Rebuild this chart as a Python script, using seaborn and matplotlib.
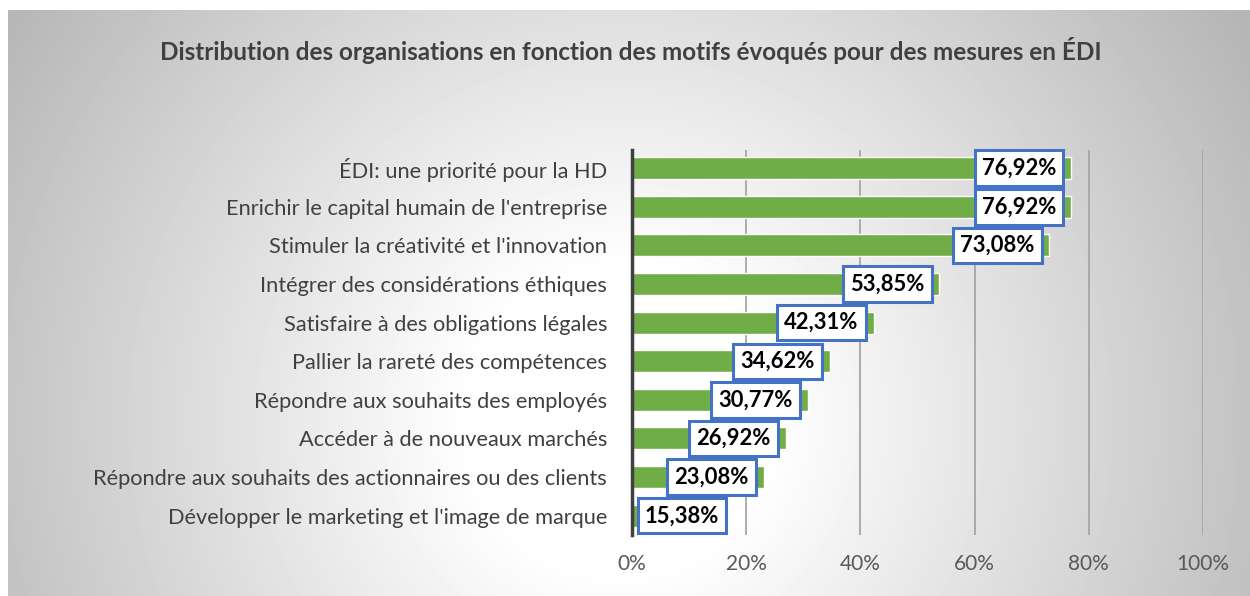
import matplotlib.pyplot as plt
import numpy as np
import pandas as pd
import seaborn as sns

title = "Distribution des organisations en fonction des motifs évoqués pour des mesures en ÉDI"
categories = [
    "ÉDI: une priorité pour la HD",
    "Enrichir le capital humain de l'entreprise",
    "Stimuler la créativité et l'innovation",
    "Intégrer des considérations éthiques",
    "Satisfaire à des obligations légales",
    "Pallier la rareté des compétences",
    "Répondre aux souhaits des employés",
    "Accéder à de nouveaux marchés",
    "Répondre aux souhaits des actionnaires ou des clients",
    "Développer le marketing et l'image de marque",
]
values = [76.92, 76.92, 73.08, 53.85, 42.31, 34.62, 30.77, 26.92, 23.08, 15.38]
value_labels = ["76,92%", "76,92%", "73,08%", "53,85%", "42,31%",
                "34,62%", "30,77%", "26,92%", "23,08%", "15,38%"]
x_ticks = [0, 20, 40, 60, 80, 100]
x_tick_labels = ["0%", "20%", "40%", "60%", "80%", "100%"]

sns.set_style("white")
plt.rcParams["font.family"] = ["Lato", "DejaVu Sans"]

fig = plt.figure(figsize=(12.5, 5.96), dpi=100)

# radial gradient background, white in the middle, grey at the corners
bg = fig.add_axes([8 / 1250, 0, 1 - 8 / 1250, 1 - 10 / 596], zorder=0)
h, w = 586, 1242
yy, xx = np.mgrid[0:h, 0:w]
r = np.hypot(xx + 8 - 620, yy + 10 - 420)
shade = 1 - 0.29 * np.clip((r - 150) / 590, 0, 1)
bg.imshow(shade, cmap="gray", vmin=0, vmax=1, aspect="auto", interpolation="bilinear")
bg.axis("off")

df = pd.DataFrame({"motif": categories, "pct": values})

ax = fig.add_axes([0.5056, 0.1023, 0.4568, 0.646], zorder=1)
ax.set_facecolor("none")
sns.barplot(data=df, x="pct", y="motif", orient="h", color="#70ad47",
            saturation=1, width=0.57, ax=ax)

ax.set_xlim(0, 100)
ax.set_ylim(9.5, -0.47)
ax.set_axisbelow(True)
ax.xaxis.grid(True, color="#a6a6a6", linewidth=1.3)
ax.set_xticks(x_ticks)
ax.set_xticklabels(x_tick_labels)
ax.set_xlabel("")
ax.set_ylabel("")
ax.tick_params(axis="x", length=0, pad=14, labelsize=15, labelcolor="#595959")
ax.tick_params(axis="y", length=0, pad=18, labelsize=15.7, labelcolor="#404040")

for side in ["top", "right", "bottom"]:
    ax.spines[side].set_visible(False)
ax.spines["left"].set_color("#404040")
ax.spines["left"].set_linewidth(2.5)

# boxed value labels, inside end of bar (kept clear of the axis)
for i, (v, lab) in enumerate(zip(values, value_labels)):
    ax.annotate(lab, xy=(max(v, 17.9), i), xytext=(-15, 0),
                textcoords="offset pixels", ha="right", va="center",
                fontsize=15.8, fontweight="bold", color="black",
                bbox=dict(boxstyle="square,pad=0.33", facecolor="white",
                          edgecolor="#4472c4", linewidth=2.2))

fig.text(0.505, 1 - 50 / 596, title, ha="center", va="center",
         fontsize=17.5, fontweight="bold", color="#404040")

fig.savefig("out.png", dpi=100)
